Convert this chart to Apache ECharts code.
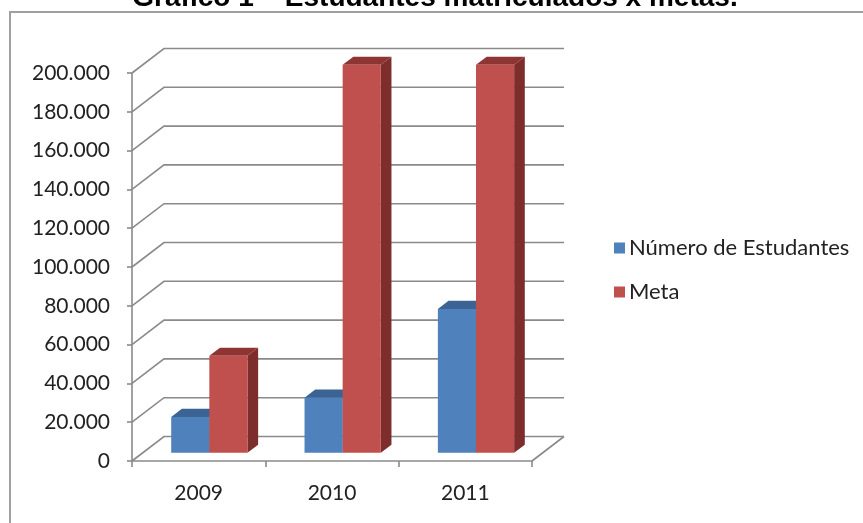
<!DOCTYPE html>
<html>
<head>
<meta charset="utf-8">
<script src="https://cdn.jsdelivr.net/npm/echarts@6/dist/echarts.min.js"></script>
<style>html,body{margin:0;padding:0;background:#fff;}#c{width:863px;height:523px;}</style>
</head>
<body>
<div id="c"></div>
<script>
var categories = ['2009', '2010', '2011'];
var seriesNames = ['Número de Estudantes', 'Meta'];
var estudantes = [18500, 28400, 74200];
var meta = [50000, 200000, 200000];
var yTicks = [0, 20000, 40000, 60000, 80000, 100000, 120000, 140000, 160000, 180000, 200000];

var DX = 32, DY = 24.5;           // depth of the 3D floor
var BAR_FRAC = 0.286;             // bar width as fraction of band
var FONT = 'Lato';

function fmt(v) {
  return String(v).replace(/\B(?=(\d{3})+(?!\d))/g, '.');
}

function wallItem(params, api) {
  var v = api.value(0);
  var y = api.coord([0, v])[1];
  var cs = params.coordSys;
  var st = {stroke: '#8a8a8a', lineWidth: 1.6, fill: null};
  var children = [{
    type: 'polyline',
    shape: {points: [[cs.x, y], [cs.x + DX, y - DY], [cs.x + cs.width + DX, y - DY]]},
    style: st
  }];
  if (v === 0) {
    children.push({
      type: 'polyline',
      shape: {points: [[cs.x + cs.width, y], [cs.x + cs.width + DX, y - DY]]},
      style: st
    });
  }
  return {type: 'group', children: children};
}

function barRenderer(which, front, top, side) {
  return function (params, api) {
    var idx = api.value(0), val = api.value(1);
    var c = api.coord([idx, val]);
    var b = api.coord([idx, 0]);
    var band = api.size([1, 0])[0];
    var w = band * BAR_FRAC;
    var ox = DX / 3, oy = DY / 3;
    var d = DX / 3, dd = DY / 3;
    var xL = c[0] + (which === 0 ? -w : 0) + ox;
    var yT = c[1] - oy;
    var yB = b[1] - oy;
    return {
      type: 'group',
      children: [
        {type: 'polygon', shape: {points: [[xL + w, yT], [xL + w + d, yT - dd], [xL + w + d, yB - dd], [xL + w, yB]]}, style: {fill: side}},
        {type: 'polygon', shape: {points: [[xL, yT], [xL + w, yT], [xL + w + d, yT - dd], [xL + d, yT - dd]]}, style: {fill: top}},
        {type: 'rect', shape: {x: xL, y: yT, width: w, height: yB - yT}, style: {fill: front}}
      ]
    };
  };
}

var chart = echarts.init(document.getElementById('c'), null, {renderer: 'canvas'});
chart.setOption({
  backgroundColor: '#ffffff',
  animation: false,
  title: {
    text: 'Gráfico 1 – Estudantes matriculados x metas.',
    left: 430, top: -21,
    textAlign: 'center',
    textStyle: {fontFamily: 'Liberation Sans', fontWeight: 'bold', fontSize: 28, color: '#000'}
  },
  graphic: [{
    type: 'polyline',
    shape: {points: [[10, 523], [10, 12], [863, 12]]},
    style: {stroke: '#a0a0a0', lineWidth: 2, fill: null},
    z: 0
  }],
  legend: {
    orient: 'vertical',
    left: 609, top: 232,
    itemWidth: 11, itemHeight: 11, itemGap: 22,
    icon: 'rect',
    data: seriesNames,
    textStyle: {fontFamily: FONT, fontSize: 22, color: '#222', padding: [0, 0, 0, -1]}
  },
  grid: {left: 132, right: 331, top: 73, bottom: 62, containLabel: false},
  xAxis: {
    type: 'category',
    data: categories,
    axisLine: {show: true, lineStyle: {color: '#8a8a8a', width: 1.6}},
    axisTick: {show: true, length: 6, lineStyle: {color: '#8a8a8a', width: 1.6}},
    axisLabel: {fontFamily: FONT, fontSize: 21, color: '#222', margin: 22},
    splitLine: {show: false}
  },
  yAxis: {
    type: 'value',
    min: 0, max: 200000, interval: 20000,
    axisLine: {show: true, lineStyle: {color: '#8a8a8a', width: 1.6}},
    axisTick: {show: true, length: 5, lineStyle: {color: '#8a8a8a', width: 1.6}},
    axisLabel: {fontFamily: FONT, fontSize: 21, color: '#222', margin: 22, formatter: fmt},
    splitLine: {show: false}
  },
  series: [
    {
      type: 'custom', name: '_wall', silent: true, z: 1,
      renderItem: wallItem,
      data: yTicks.map(function (v) { return [v]; }),
      encode: {y: 0}
    },
    {
      type: 'custom', name: seriesNames[0], z: 2,
      itemStyle: {color: '#4f81bd'},
      renderItem: barRenderer(0, '#4f81bd', '#3b6494', '#36597f'),
      data: estudantes.map(function (v, i) { return [i, v]; }),
      encode: {x: 0, y: 1}
    },
    {
      type: 'custom', name: seriesNames[1], z: 3,
      itemStyle: {color: '#c0504d'},
      renderItem: barRenderer(1, '#c0504d', '#8e3432', '#7c2d2c'),
      data: meta.map(function (v, i) { return [i, v]; }),
      encode: {x: 0, y: 1}
    }
  ]
});
</script>
</body>
</html>
